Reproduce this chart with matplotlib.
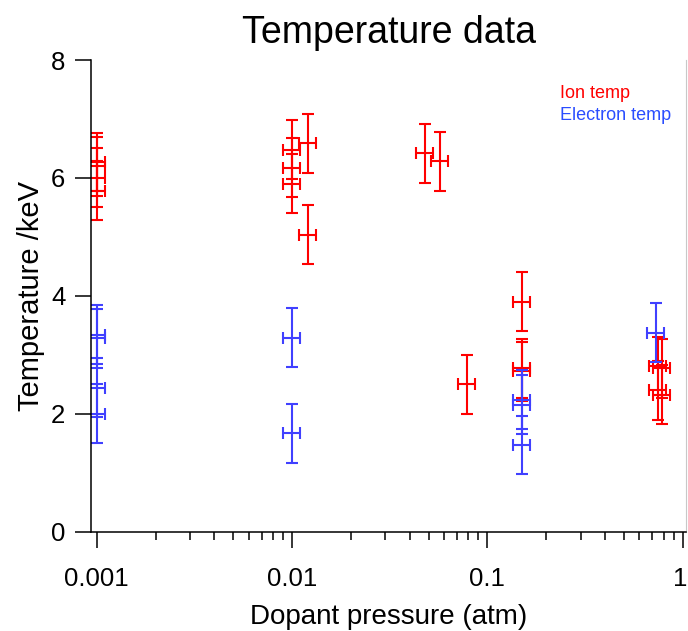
"""Temperature vs dopant pressure, ion and electron temperatures with error bars."""

import matplotlib
matplotlib.use("Agg")
import matplotlib.pyplot as plt
import matplotlib.ticker as mticker
import matplotlib.transforms as mtransforms

plt.rcParams["font.family"] = ["Liberation Sans", "DejaVu Sans"]

# Ion temperature points (pressure in atm, temperature in keV)
ion_pressure = [0.001, 0.001, 0.001, 0.001, 0.01, 0.01, 0.01, 0.0121, 0.0121,
                0.048, 0.0573, 0.0784, 0.15, 0.15, 0.15, 0.75, 0.78, 0.75, 0.78]
ion_pressure_err = [0.0001, 0.0001, 0.0001, 0.0001, 0.001, 0.001, 0.001, 0.00121, 0.00121,
                    0.0048, 0.00573, 0.00784, 0.015, 0.015, 0.015, 0.075, 0.078, 0.075, 0.078]
ion_temp = [6.27, 6.20, 6.00, 5.78, 6.48, 6.17, 5.90, 6.59, 5.04,
            6.42, 6.28, 2.50, 3.90, 2.77, 2.72, 2.81, 2.77, 2.40, 2.32]
ion_temp_err = [0.5, 0.5, 0.5, 0.5, 0.5, 0.5, 0.5, 0.5, 0.5,
                0.5, 0.5, 0.5, 0.5, 0.5, 0.5, 0.5, 0.5, 0.5, 0.5]

# Electron temperature points
elec_pressure = [0.001, 0.001, 0.001, 0.001, 0.01, 0.01, 0.15, 0.15, 0.15, 0.73]
elec_pressure_err = [0.0001, 0.0001, 0.0001, 0.0001, 0.001, 0.001, 0.015, 0.015, 0.015, 0.073]
elec_temp = [3.34, 3.28, 2.44, 2.00, 3.29, 1.67, 2.24, 2.15, 1.47, 3.375]
elec_temp_err = [0.5, 0.5, 0.5, 0.5, 0.5, 0.5, 0.5, 0.5, 0.5, 0.5]

x_ticks = [0.001, 0.01, 0.1, 1]
x_tick_labels = ["0.001", "0.01", "0.1", "1"]
y_ticks = [0, 2, 4, 6, 8]

ION_COLOR = "#ff0000"
ELEC_COLOR = "#4040ff"

fig = plt.figure(figsize=(6.88, 6.31), dpi=100)
ax = fig.add_axes([0.1323, 0.1574, 0.8648, 0.7475])

bar_kw = dict(fmt="none", elinewidth=1.5, capsize=4.3, capthick=1.5)
ax.errorbar(ion_pressure, ion_temp, xerr=ion_pressure_err, yerr=ion_temp_err,
            ecolor=ION_COLOR, **bar_kw)
ax.errorbar(elec_pressure, elec_temp, xerr=elec_pressure_err, yerr=elec_temp_err,
            ecolor=ELEC_COLOR, **bar_kw)

ax.set_xscale("log")
ax.set_xlim(0.000935, 1.04)
ax.set_ylim(0, 8)

ax.set_xticks(x_ticks)
ax.xaxis.set_major_formatter(mticker.FixedFormatter(x_tick_labels))
ax.xaxis.set_minor_locator(mticker.LogLocator(base=10, subs=range(2, 10)))
ax.xaxis.set_minor_formatter(mticker.NullFormatter())
ax.set_yticks(y_ticks)

ax.tick_params(axis="both", which="major", direction="out", length=11.5, width=1.1,
               labelsize=18.5)
ax.tick_params(axis="x", which="major", pad=14)
ax.tick_params(axis="y", which="major", pad=7)
ax.tick_params(axis="x", which="minor", direction="out", length=5.8, width=1.1)

# keep the "1" label inside the figure edge, but close to its tick
last = ax.xaxis.get_major_ticks()[-1].label1
last.set_horizontalalignment("right")
last.set_transform(last.get_transform()
                   + mtransforms.ScaledTranslation(0.05, 0, fig.dpi_scale_trans))

for side in ("left", "bottom"):
    ax.spines[side].set_linewidth(1.1)
ax.spines["top"].set_visible(False)
ax.spines["right"].set_color("#c8c8c8")
ax.spines["right"].set_linewidth(0.8)

ax.set_xlabel("Dopant pressure (atm)", fontsize=20, labelpad=9)
ax.set_ylabel("Temperature /keV", fontsize=21, labelpad=4)
ax.set_title("Temperature data", fontsize=27, pad=12)

ax.text(0.788, 0.928, "Ion temp", color=ION_COLOR, fontsize=13,
        transform=ax.transAxes, ha="left", va="center")
ax.text(0.788, 0.883, "Electron temp", color="#2a4dff", fontsize=13,
        transform=ax.transAxes, ha="left", va="center")

fig.savefig("out.png", dpi=100)
plt.close(fig)
